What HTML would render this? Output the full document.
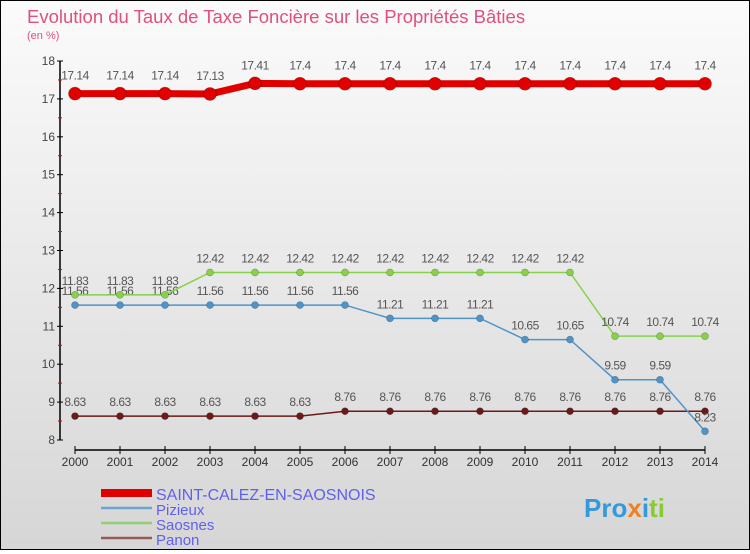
<!DOCTYPE html>
<html><head><meta charset="utf-8"><style>
html,body{margin:0;padding:0}
body{width:750px;height:550px;overflow:hidden;font-family:"Liberation Sans",sans-serif}
#wrap{position:relative;width:748px;height:548px;border:1px solid #000;background:linear-gradient(#fbfbfb,#d6d6d6)}
svg text{font-family:"Liberation Sans",sans-serif}
</style></head><body>
<div id="wrap">
<svg id="chart" width="748" height="548"></svg>
</div>
<script>
const years=[2000,2001,2002,2003,2004,2005,2006,2007,2008,2009,2010,2011,2012,2013,2014];
const saint=[17.14,17.14,17.14,17.13,17.41,17.4,17.4,17.4,17.4,17.4,17.4,17.4,17.4,17.4,17.4];
const pizieux=[11.56,11.56,11.56,11.56,11.56,11.56,11.56,11.21,11.21,11.21,10.65,10.65,9.59,9.59,8.23];
const saosnes=[11.83,11.83,11.83,12.42,12.42,12.42,12.42,12.42,12.42,12.42,12.42,12.42,10.74,10.74,10.74];
const panon=[8.63,8.63,8.63,8.63,8.63,8.63,8.76,8.76,8.76,8.76,8.76,8.76,8.76,8.76,8.76];
const yTicks=[8,9,10,11,12,13,14,15,16,17,18];
const seriesNames=["SAINT-CALEZ-EN-SAOSNOIS","Pizieux","Saosnes","Panon"];

const svg=document.getElementById('chart');
const NS='http://www.w3.org/2000/svg';
const ox=-1,oy=-1;
function X(i){return 75+(i)*45+ox;}
function Y(v){return 440-(v-8)*37.9+oy;}
function mk(tag,attrs,parent){const e=document.createElementNS(NS,tag);for(const k in attrs)e.setAttribute(k,attrs[k]);(parent||svg).appendChild(e);return e;}

let t=mk('text',{x:26,y:22,'font-size':18.5,fill:'#e0507a'});t.textContent='Evolution du Taux de Taxe Foncière sur les Propriétés Bâties';


t=mk('text',{x:26,y:38,'font-size':11,fill:'#e0507a'});t.textContent='(en %)';



let ax=mk('line',{x1:60+ox,y1:Y(18),x2:60+ox,y2:Y(8),stroke:'#000','stroke-width':1.5});


yTicks.forEach(v=>{
 mk('line',{x1:57+ox,x2:63+ox,y1:Y(v),y2:Y(v),stroke:'#000'});
 if(v<18) mk('line',{x1:58+ox,x2:62+ox,y1:Y(v+0.5),y2:Y(v+0.5),stroke:'#d00'});
 const l=mk('text',{x:55+ox,y:Y(v)+4,'font-size':12,fill:'#444','text-anchor':'end'});l.textContent=v;
 
 
});
ax=mk('line',{x1:X(0),y1:450+oy,x2:X(14),y2:450+oy,stroke:'#000','stroke-width':1.5});


years.forEach((yr,i)=>{
 mk('line',{x1:X(i),x2:X(i),y1:446+oy,y2:454+oy,stroke:'#000'});
 const l=mk('text',{x:X(i),y:466+oy,'font-size':12,fill:'#333','text-anchor':'middle'});l.textContent=yr;
 
 
});

function series(vals,color,sw,r,name,labelOff){
 const g=mk('g',{});
 
 
 mk('polyline',{points:vals.map((v,i)=>X(i)+','+Y(v)).join(' '),fill:'none',stroke:color,'stroke-width':sw},g);
 vals.forEach((v,i)=>{
  const c=mk('circle',{cx:X(i),cy:Y(v),r:r,fill:color,stroke:'rgba(0,0,0,0.3)','stroke-width':0.6},g);
  
  
  const l=mk('text',{x:X(i),y:Y(v)+labelOff,'font-size':12,fill:'#555','text-anchor':'middle','letter-spacing':'-0.5'},g);
  l.textContent=v;
  
  
 });
}
series(panon,'#6b1a1a',1.5,3.5,'panon-series',-10);
series(pizieux,'#4f94c8',1.5,3.5,'pizieux-series',-10);
series(saosnes,'#86d24a',1.5,3.5,'saosnes-series',-10);
series(saint,'#e00000',7,6.5,'saint-calez-series',-14);

const colors=['#e00000','#6ea6d2','#90d070','#9a5a5a'];
const widths=[8,2.5,2.5,2.5];
seriesNames.forEach((n,i)=>{
 const y=493+i*15+oy;
 const g=mk('g',{});
 
 
 mk('line',{x1:100,x2:151,y1:y,y2:y,stroke:colors[i],'stroke-width':widths[i]},g);
 const l=mk('text',{x:155,y:y+7,'font-size':i==0?16:15,fill:'#6060f0'},g);l.textContent=n;
});
const lg=mk('text',{x:583,y:516,'font-size':26,'font-weight':'bold',fill:'#3399dd'});
lg.innerHTML='<tspan fill="#3399dd">Pro</tspan><tspan fill="#f08020">x</tspan><tspan fill="#3399dd">i</tspan><tspan fill="#88cc33">ti</tspan>';


</script>
</body></html>
